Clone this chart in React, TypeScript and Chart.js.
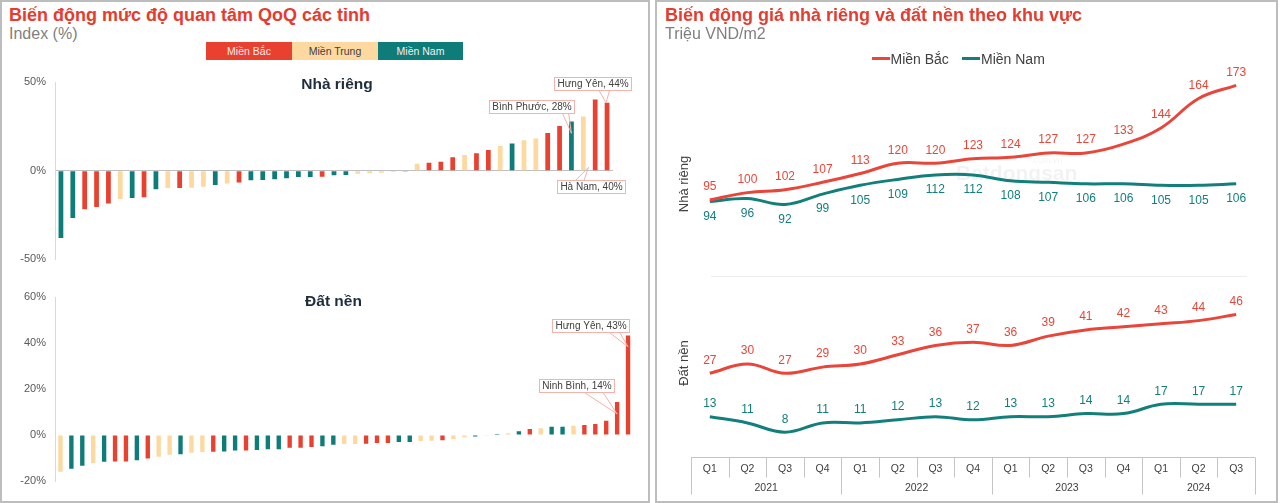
import React, { useEffect, useRef } from "react";
import { Chart, registerables } from "chart.js";

Chart.register(...registerables);

const FONT = "'Liberation Sans', Arial, Helvetica, sans-serif";
const RED = "#E8412F";
const YELLOW = "#FDD9A0";
const TEAL = "#0E7C78";
const LINE_RED = "#E8463A";
const LINE_TEAL = "#127F7B";
const REGION_COLOR: Record<string, string> = { B: RED, T: YELLOW, N: TEAL };

// ---- Left panel: QoQ interest change by province ----
const legendKeys = ["B", "T", "N"];
const legendNames = ["Miền Bắc", "Miền Trung", "Miền Nam"];

// Nhà riêng (47 provinces, sorted)
const houseRegions = ["N","N","B","B","B","T","N","B","N","T","B","T","T","N","T","B","N","N","N","N","N","N","B","N","N","T","T","T","T","N","T","B","B","B","T","B","B","T","N","T","T","B","B","N","T","B","B"];
const houseChange = [-38,-26.7,-21.7,-20.5,-18.5,-15.9,-15.4,-15,-10.5,-9.8,-9.8,-9.6,-9,-8.1,-7.2,-6.6,-5.4,-5.2,-4.8,-4.2,-3.6,-3.5,-3.4,-2.6,-2.4,-1.7,-1.5,-1.2,-0.8,-0.5,3.9,4.5,5,7.6,8.9,9.8,11.7,13.9,15.4,17.2,18.1,21.3,25.2,27.8,30.6,40.2,38.3];
const houseTicks = [-50, 0, 50];

// Đất nền (53 provinces, sorted)
const landRegions = ["T","N","N","T","N","B","B","N","B","T","T","N","T","T","B","N","N","B","N","N","N","B","B","B","N","N","T","T","B","B","B","N","N","T","T","B","T","T","N","T","N","T","N","B","T","N","N","T","B","B","B","B","B"];
const landChange = [-16,-14.7,-13.4,-12.2,-11.6,-11.5,-11.5,-11,-10.2,-9.4,-8.6,-8.3,-7.7,-7.4,-7.3,-7.1,-6.7,-6.7,-6.5,-6.2,-6.2,-5.5,-5.5,-5.2,-4.9,-4.2,-3.9,-3.9,-3.8,-3.5,-3.5,-3,-3,-2.6,-2.5,-2.3,-1.7,-1,-0.6,-0.3,0.5,0.8,1.7,2.6,3,3.6,3.6,4.1,4.4,4.8,6.2,14.4,43.4];
const landTicks = [-20, 0, 20, 40, 60];

// Callout annotations (index into the arrays above)
const houseCallouts = [
  { index: 46, text: "Hưng Yên, 44%", dx: -14, dy: -25.4, tipDx: -1, tipDy: 0, w1: -7.7, w2: 2.3, below: false },
  { index: 43, text: "Bình Phước, 28%", dx: -39, dy: -21, tipDx: 0, tipDy: 12, w1: -8.7, w2: -2.7, below: false },
  { index: 45, text: "Hà Nam, 40%", atZero: true, dx: -3.5, dy: 9.6, tipDx: -6.7, tipDy: -3.4, w1: -19.3, w2: -11, below: true },
];
const landCallouts = [
  { index: 52, text: "Hưng Yên, 43%", dx: -37, dy: -16, tipDx: 0, tipDy: 11.4, w1: -18, w2: -8, below: false },
  { index: 51, text: "Ninh Bình, 14%", dx: -40.5, dy: -22.7, tipDx: 0, tipDy: 12, w1: -32, w2: -13.7, below: false },
];

// ---- Right panel: prices by region ----
const quarters = ["Q1","Q2","Q3","Q4","Q1","Q2","Q3","Q4","Q1","Q2","Q3","Q4","Q1","Q2","Q3"];
const years = ["2021", "2022", "2023", "2024"];
const quartersPerYear = [4, 4, 4, 3];
const houseNorth = [95,100,102,107,113,120,120,123,124,127,127,133,144,164,173];
const houseSouth = [94,96,92,99,105,109,112,112,108,107,106,106,105,105,106];
const landNorth = [27,30,27,29,30,33,36,37,36,39,41,42,43,44,46];
const landSouth = [13,11,8,11,11,12,13,12,13,13,14,14,17,17,17];

function QoQChart(props: any) {
  const { regions, values, ticks, callouts, top, height, padding, barPct, zeroLine } = props;
  const ref = useRef<HTMLCanvasElement>(null);
  useEffect(() => {
    const calloutPlugin = {
      id: "callouts",
      afterDatasetsDraw(chart: any) {
        const ctx = chart.ctx;
        const meta = chart.getDatasetMeta(0);
        const yScale = chart.scales.y;
        ctx.save();
        ctx.font = `10px ${FONT}`;
        callouts.forEach((c: any) => {
          const bar = meta.data[c.index];
          const ax = bar.x;
          const ay = yScale.getPixelForValue(c.atZero ? 0 : values[c.index]);
          const tipX = ax + c.tipDx;
          const tipY = ay + c.tipDy;
          const w = Math.round(ctx.measureText(c.text).width + 7);
          const h = 14;
          const cx = ax + c.dx;
          const boxTop = Math.round(ay + c.dy);
          const left = Math.round(cx - w / 2);
          const baseY = c.below ? boxTop : boxTop + h;
          ctx.strokeStyle = "#F3B2AB";
          ctx.lineWidth = 1;
          ctx.beginPath();
          ctx.moveTo(ax + c.w1, baseY);
          ctx.lineTo(tipX, tipY);
          ctx.lineTo(ax + c.w2, baseY);
          ctx.stroke();
          ctx.fillStyle = "#FFFFFF";
          ctx.fillRect(left, boxTop, w, h);
          ctx.strokeRect(left + 0.5, boxTop + 0.5, w - 1, h - 1);
          ctx.fillStyle = "#404040";
          ctx.textAlign = "center";
          ctx.textBaseline = "middle";
          ctx.fillText(c.text, left + w / 2, boxTop + h / 2 + 0.5);
        });
        ctx.restore();
      },
    };
    const chart = new Chart(ref.current as HTMLCanvasElement, {
      type: "bar",
      data: {
        labels: values.map((_: number, i: number) => String(i + 1)),
        datasets: [
          {
            data: values,
            backgroundColor: regions.map((r: string) => REGION_COLOR[r]),
            borderWidth: 0,
            categoryPercentage: 1,
            barPercentage: barPct,
          },
        ],
      },
      options: {
        responsive: false,
        animation: false,
        layout: { padding },
        plugins: { legend: { display: false }, tooltip: { enabled: false }, title: { display: false } },
        scales: {
          x: { display: false, offset: true },
          y: {
            min: ticks[0],
            max: ticks[ticks.length - 1],
            afterBuildTicks: (s: any) => {
              s.ticks = ticks.map((v: number) => ({ value: v }));
            },
            afterFit: (s: any) => {
              s.width = 55;
            },
            ticks: {
              callback: (v: any) => `${v}%`,
              font: { family: FONT, size: 11 },
              color: "#595959",
              padding: 9,
            },
            grid: {
              drawTicks: false,
              color: (c: any) => (zeroLine && c.tick && c.tick.value === 0 ? "#BFBFBF" : "rgba(0,0,0,0)"),
            },
            border: { color: "#D9D9D9" },
          },
        },
      } as any,
      plugins: [calloutPlugin],
    });
    return () => chart.destroy();
  }, []);
  return (
    <canvas
      ref={ref}
      width={652}
      height={height}
      style={{ position: "absolute", left: 0, top, width: 652, height, display: "block" }}
    />
  );
}

function PriceChart() {
  const ref = useRef<HTMLCanvasElement>(null);
  useEffect(() => {
    const labelOffsets = [-13, 15, -13, -13];
    const decor = {
      id: "priceDecor",
      beforeDatasetsDraw(chart: any) {
        const ctx = chart.ctx;
        ctx.save();
        ctx.fillStyle = "rgba(0,0,0,0.05)";
        ctx.font = `bold 21px ${FONT}`;
        ctx.textAlign = "left";
        ctx.textBaseline = "alphabetic";
        ctx.fillText("Batdongsan", 298, 180);
        ctx.font = `9px ${FONT}`;
        ctx.fillText(".com.vn", 373, 163);
        ctx.restore();
      },
      afterDatasetsDraw(chart: any) {
        const { ctx, chartArea } = chart;
        const xs = chart.scales.x;
        const yHouse = chart.scales.yHouse;
        ctx.save();
        ctx.strokeStyle = "#EDEDED";
        ctx.lineWidth = 1;
        const sepY = Math.round(yHouse.bottom) + 0.5;
        ctx.beginPath();
        ctx.moveTo(chartArea.left + 20, sepY);
        ctx.lineTo(chartArea.right - 8, sepY);
        ctx.stroke();

        ctx.font = `12px ${FONT}`;
        ctx.textAlign = "center";
        ctx.textBaseline = "middle";
        chart.data.datasets.forEach((ds: any, i: number) => {
          const meta = chart.getDatasetMeta(i);
          ctx.fillStyle = ds.borderColor;
          meta.data.forEach((pt: any, j: number) => {
            ctx.fillText(String(ds.data[j]), pt.x, pt.y + labelOffsets[i]);
          });
        });

        ctx.fillStyle = "#404040";
        ctx.font = `13px ${FONT}`;
        const titles = [
          { text: "Nhà riêng", y: 184 },
          { text: "Đất nền", y: 363 },
        ];
        titles.forEach((t) => {
          ctx.save();
          ctx.translate(chartArea.left - 7, t.y);
          ctx.rotate(-Math.PI / 2);
          ctx.fillText(t.text, 0, 0);
          ctx.restore();
        });

        const step = xs.getPixelForValue(1) - xs.getPixelForValue(0);
        const top = Math.round(chartArea.bottom) + 0.5;
        ctx.strokeStyle = "#C4C4C4";
        ctx.beginPath();
        ctx.moveTo(chartArea.left, top);
        ctx.lineTo(chartArea.right, top);
        ctx.stroke();
        const yearStarts: number[] = [];
        let acc = 0;
        quartersPerYear.forEach((n) => {
          yearStarts.push(acc);
          acc += n;
        });
        for (let i = 0; i <= quarters.length; i++) {
          const bx = Math.round(xs.getPixelForValue(0) - step / 2 + i * step) + 0.5;
          const isYear = i === quarters.length || yearStarts.indexOf(i) >= 0;
          ctx.beginPath();
          ctx.moveTo(bx, top);
          ctx.lineTo(bx, top + (isYear ? 37 : 20));
          ctx.stroke();
        }
        ctx.fillStyle = "#404040";
        ctx.font = `10.5px ${FONT}`;
        quarters.forEach((q, i) => {
          ctx.fillText(q, xs.getPixelForValue(i), top + 12);
        });
        years.forEach((y, k) => {
          const first = yearStarts[k];
          const last = first + quartersPerYear[k] - 1;
          const cx = (xs.getPixelForValue(first) + xs.getPixelForValue(last)) / 2;
          ctx.fillText(y, cx, top + 31);
        });
        ctx.restore();
      },
    };
    const lineDs = (label: string, data: number[], color: string, axis: string) => ({
      label,
      data,
      yAxisID: axis,
      borderColor: color,
      backgroundColor: color,
      borderWidth: 3,
      pointRadius: 0,
      tension: 0.4,
      fill: false,
      clip: false,
    });
    const hiddenAxis = {
      type: "linear",
      position: "left",
      stack: "price",
      display: true,
      ticks: { display: false },
      grid: { display: false },
      border: { display: false },
      title: { display: false },
      afterFit: (s: any) => {
        s.width = 0;
      },
    };
    const chart = new Chart(ref.current as HTMLCanvasElement, {
      type: "line",
      data: {
        labels: quarters,
        datasets: [
          lineDs("Miền Bắc", houseNorth, LINE_RED, "yHouse"),
          lineDs("Miền Nam", houseSouth, LINE_TEAL, "yHouse"),
          lineDs("Miền Bắc", landNorth, LINE_RED, "yLand"),
          lineDs("Miền Nam", landSouth, LINE_TEAL, "yLand"),
        ],
      },
      options: {
        responsive: false,
        animation: false,
        layout: { padding: { left: 33, right: 23, top: 80, bottom: 46 } },
        plugins: { legend: { display: false }, tooltip: { enabled: false }, title: { display: false } },
        scales: {
          x: { display: false, offset: true },
          yLand: { ...hiddenAxis, stackWeight: 181, min: 0, max: 58.4 },
          yHouse: { ...hiddenAxis, stackWeight: 196, min: 43.3, max: 176.6 },
        },
      } as any,
      plugins: [decor],
    });
    return () => chart.destroy();
  }, []);
  return (
    <canvas
      ref={ref}
      width={620}
      height={503}
      style={{ position: "absolute", left: 658, top: 0, width: 620, height: 503, display: "block" }}
    />
  );
}

const panelStyle: React.CSSProperties = {
  position: "absolute",
  top: 0,
  height: 503,
  boxSizing: "border-box",
  border: "2px solid #BDBDBD",
  background: "#FFFFFF",
};

const abs = (left: number, top: number, extra: React.CSSProperties = {}): React.CSSProperties => ({
  position: "absolute",
  left,
  top,
  whiteSpace: "nowrap",
  lineHeight: 1,
  ...extra,
});

export default function App() {
  return (
    <div
      style={{
        position: "absolute",
        left: 0,
        top: 0,
        width: 1280,
        height: 503,
        overflow: "hidden",
        background: "#FFFFFF",
        fontFamily: FONT,
      }}
    >
      <div style={{ ...panelStyle, left: 0, width: 650 }} />
      <div style={{ ...panelStyle, left: 655, width: 623 }} />

      <QoQChart
        regions={houseRegions}
        values={houseChange}
        ticks={houseTicks}
        callouts={houseCallouts}
        top={65}
        height={210}
        padding={{ left: 0, right: 39, top: 17, bottom: 13 }}
        barPct={0.4}
        zeroLine={true}
      />
      <QoQChart
        regions={landRegions}
        values={landChange}
        ticks={landTicks}
        callouts={landCallouts}
        top={280}
        height={222}
        padding={{ left: 0, right: 18.5, top: 17.3, bottom: 21 }}
        barPct={0.4}
        zeroLine={false}
      />
      <PriceChart />

      <div style={abs(9, 5.5, { fontSize: 18, fontWeight: "bold", color: "#E63B2E" })}>
        Biến động mức độ quan tâm QoQ các tỉnh
      </div>
      <div style={abs(9, 25.5, { fontSize: 16, color: "#7F7F7F" })}>Index (%)</div>
      <div style={abs(206, 42, { display: "flex", height: 18 })}>
        {legendKeys.map((k, i) => (
          <div
            key={k}
            style={{
              width: i === 2 ? 85 : 86,
              height: 18,
              lineHeight: "18px",
              textAlign: "center",
              fontSize: 10.5,
              background: REGION_COLOR[k],
              color: k === "T" ? "#404040" : "#F7EDEB",
            }}
          >
            {legendNames[i]}
          </div>
        ))}
      </div>
      <div style={abs(237, 76, { width: 200, textAlign: "center", fontSize: 15.5, fontWeight: "bold", color: "#1F2D3D" })}>
        Nhà riêng
      </div>
      <div style={abs(233.5, 293, { width: 200, textAlign: "center", fontSize: 15.5, fontWeight: "bold", color: "#1F2D3D" })}>
        Đất nền
      </div>

      <div style={abs(665, 6, { fontSize: 18, fontWeight: "bold", color: "#E63B2E" })}>
        Biến động giá nhà riêng và đất nền theo khu vực
      </div>
      <div style={abs(665, 25.5, { fontSize: 16, color: "#7F7F7F" })}>Triệu VND/m2</div>
      <div style={abs(871.5, 57, { width: 18, height: 3, background: LINE_RED })} />
      <div style={abs(890.5, 51.5, { fontSize: 14, color: "#404040" })}>Miền Bắc</div>
      <div style={abs(962, 57, { width: 18, height: 3, background: LINE_TEAL })} />
      <div style={abs(981, 51.5, { fontSize: 14, color: "#404040" })}>Miền Nam</div>
    </div>
  );
}
